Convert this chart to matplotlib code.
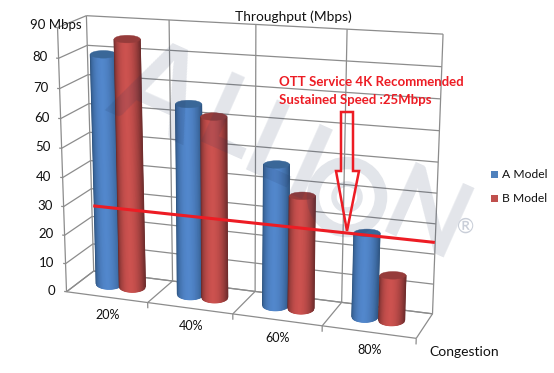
import numpy as np
import matplotlib
matplotlib.use('Agg')
import matplotlib.pyplot as plt
from matplotlib.colors import LinearSegmentedColormap
from matplotlib.patches import Polygon, Rectangle, Ellipse, Circle

plt.rcParams['font.family'] = ['Lato', 'DejaVu Sans']

# data
categories = ['20%', '40%', '60%', '80%']
a_model = [79.5, 65, 47.5, 28]
b_model = [85, 61.5, 38, 15]
value_ticks = [0, 10, 20, 30, 40, 50, 60, 70, 80]
recommended = 25

# corners of the 3d box: (category, value, depth) -> picture pixel
box_3d = [(0, 0, 0), (4, 0, 0), (0, 0, 1), (4, 0, 1), (0, 90, 1), (4, 90, 1), (0, 90, 0),
          (1, 0, 0), (2, 0, 0), (3, 0, 0),
          (1, 90, 1), (2, 90, 1), (3, 90, 1),
          (1, 0, 1), (2, 0, 1), (3, 0, 1)]
box_px = [(67, 291), (417, 338), (93, 271), (432, 313), (87, 15), (443, 34), (57, 28),
          (148, 302), (232, 314), (322, 327),
          (169, 20), (256, 25), (347, 29),
          (173, 282), (255, 292), (342, 302)]


def fit_projection(pts, px):
    rows, rhs = [], []
    for (u, v, d), (x, y) in zip(pts, px):
        rows.append([u, v, d, 1, 0, 0, 0, 0, -x * u, -x * v, -x * d])
        rhs.append(x)
        rows.append([0, 0, 0, 0, u, v, d, 1, -y * u, -y * v, -y * d])
        rhs.append(y)
    sol = np.linalg.lstsq(np.array(rows, float), np.array(rhs, float), rcond=None)[0]
    return np.append(sol, 1.0).reshape(3, 4)


P = fit_projection(box_3d, box_px)


def proj(u, v, d):
    u, v, d = np.broadcast_arrays(u, v, d)
    w = P[2, 0] * u + P[2, 1] * v + P[2, 2] * d + P[2, 3]
    x = (P[0, 0] * u + P[0, 1] * v + P[0, 2] * d + P[0, 3]) / w
    y = (P[1, 0] * u + P[1, 1] * v + P[1, 2] * d + P[1, 3]) / w
    return x, y


fig = plt.figure(figsize=(5.54, 3.73), dpi=100)
ax = fig.add_axes([0, 0, 1, 1])
ax.set_xlim(0, 554)
ax.set_ylim(373, 0)
ax.axis('off')

grid = '#8c8c8c'


def seg(p0, p1, **kw):
    x0, y0 = proj(*p0)
    x1, y1 = proj(*p1)
    ax.plot([x0, x1], [y0, y1], color=grid, lw=0.9, solid_capstyle='butt', **kw)


# walls
for v in value_ticks + [90]:
    seg((0, v, 0), (0, v, 1), zorder=1)
    seg((0, v, 1), (4, v, 1), zorder=1)
for u in range(5):
    seg((u, 0, 1), (u, 90, 1), zorder=1)
    seg((u, 0, 0), (u, 0, 1), zorder=1)
seg((0, 0, 0), (0, 90, 0), zorder=1)
seg((0, 0, 0), (4, 0, 0), zorder=1)
seg((0, 0, 1), (4, 0, 1), zorder=1)
for u in range(1, 5):
    seg((u, 0, 0), (u, -2, 0), zorder=1)
for v in value_ticks + [90]:
    seg((0, v, 0), (-0.03, v, 0), zorder=1)


def cylinder(uc, val, cmap, top, z):
    half = 13
    xb, yb = proj(uc, 0, 0.55)
    xt, yt = proj(uc, val, 0.55)
    hb, ht = 5.5, 3.8
    s = np.linspace(-1, 1, 31)
    xx = np.vstack([xt + half * s, xb + half * s])
    yy = np.vstack([yt + ht * np.sqrt(1 - s * s) * 0 + 0 * s, yb + hb * np.sqrt(1 - s * s)])
    # brightest left of centre, dark towards both edges
    t = (s + 1) / 2
    k = np.sin(np.pi * t ** 0.85) ** 0.7
    ax.pcolormesh(xx, yy, np.vstack([k, k]), cmap=cmap, vmin=0, vmax=1, shading='gouraud', zorder=z)
    ax.add_patch(Ellipse((xt, yt), 2 * half, 2 * ht, fc=top, ec=top, lw=0.3, zorder=z + 0.1))


blue_map = LinearSegmentedColormap.from_list('bl', ['#2e5480', '#5287cc'])
red_map = LinearSegmentedColormap.from_list('rd', ['#6b2b2b', '#cc524f'])
for i in range(4):
    cylinder(i + 0.35, a_model[i], blue_map, '#3a6798', 2 + i)
    cylinder(i + 0.64, b_model[i], red_map, '#963c3b', 2.5 + i)

# tick labels
for v in value_ticks:
    x, y = proj(0, v, 0)
    ax.text(x - 11, y - 1, str(v), ha='right', va='center', fontsize=9.5, color='#111111', zorder=20)
ax.text(30, 25, '90 Mbps', ha='left', va='center', fontsize=9.5, color='#111111', zorder=20)
for i, c in enumerate(categories):
    x, y = proj(i + 0.5, 0, 0)
    ax.text(x + 1, y + 18, c, ha='center', va='center', fontsize=9, color='#111111', zorder=20)

ax.text(293, 17, 'Throughput (Mbps)', ha='center', va='center', fontsize=9.9, color='#111111', zorder=20)
ax.text(429, 352, 'Congestion', ha='left', va='center', fontsize=10, color='#111111', zorder=20)

# legend
for lab, col, y in [('A Model', '#4f81bd', 174), ('B Model', '#c0504d', 198)]:
    ax.add_patch(Rectangle((491, y - 3.5), 7, 7, fc=col, ec='none', zorder=20))
    ax.text(502, y, lab, ha='left', va='center', fontsize=8.7, color='#111111', zorder=20)

# watermark, letter by letter along a slanted line
mark = '#24365e'
mark_alpha = 0.13
for ch, cx, cy, size in [('A', 158, 95, 88), ('L', 229, 125, 76), ('L', 274, 153, 76),
                         ('I', 306, 172, 76), ('N', 425, 220, 76)]:
    ax.text(cx, cy, ch, rotation=-24, rotation_mode='anchor', ha='center', va='center',
            fontsize=size, color=mark, alpha=mark_alpha, fontweight='bold', zorder=15)
ax.add_patch(Circle((347, 197), 34, fc='none', ec=mark, alpha=mark_alpha, lw=9, zorder=15))
ax.add_patch(Circle((347, 197), 13, fc='none', ec=mark, alpha=mark_alpha, lw=4, zorder=15))
ax.text(466, 227, '\u00ae', ha='center', va='center', fontsize=15, color='#c9ced8', zorder=15)

# 25 Mbps recommended line, arrow and note
overlay = '#ed1c24'
lx, ly = proj([0.07, 4.02], recommended, 0.85)
ax.plot(lx, ly, color=overlay, lw=2.2, solid_capstyle='butt', zorder=16)
ax.text(279, 82, 'OTT Service 4K Recommended', ha='left', va='center', fontsize=9.5,
        fontweight='bold', color=overlay, zorder=17)
ax.text(279, 100, 'Sustained Speed :25Mbps', ha='left', va='center', fontsize=9.5,
        fontweight='bold', color=overlay, zorder=17)
ax.add_patch(Polygon([(341, 112), (353, 112), (353, 171), (359, 171), (347, 231), (336, 171), (341, 171)],
                     closed=True, fc='none', ec=overlay, lw=1.8, zorder=17))

fig.savefig('out.png', dpi=100)
